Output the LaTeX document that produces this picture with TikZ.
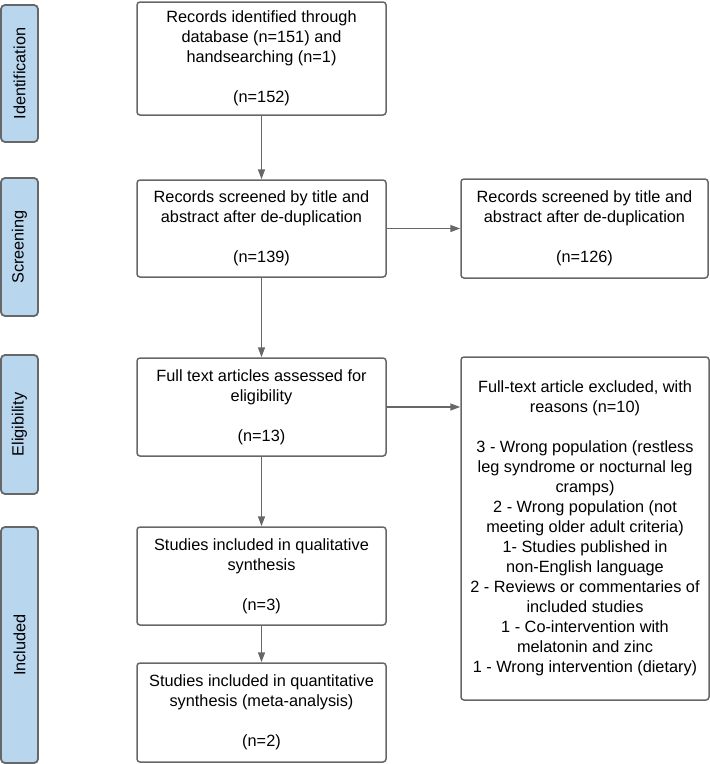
\documentclass[tikz,border=0pt]{standalone}
\usepackage{fontspec}
\setmainfont{Liberation Sans}
\usetikzlibrary{arrows.meta}
\definecolor{phaseblue}{HTML}{B9D6EF}
\definecolor{linegrey}{HTML}{676767}

\begin{document}
\begin{tikzpicture}[x=1pt,y=-1pt,font=\fontsize{16.3}{20}\selectfont]
\useasboundingbox (0,0) rectangle (710,764);
% phase labels down the left side
\begin{scope}[every node/.style={draw=linegrey,line width=1.8pt,fill=phaseblue,rounded corners=4pt,rotate=90,inner sep=0pt,minimum height=37pt}]
    \node[minimum width=137pt] (ident) at (19.5,73.5) {Identification};
    \node[minimum width=138pt] (screen) at (19.5,247) {Screening};
    \node[minimum width=139pt] (elig) at (19.5,424.5) {Eligibility};
    \node[minimum width=236pt] (incl) at (19.5,645) {Included};
\end{scope}
% flow boxes
\begin{scope}[every node/.style={draw=linegrey,line width=1.5pt,rounded corners=3pt,align=center,inner sep=0pt}]
    \node[minimum width=249pt,minimum height=113pt] (found) at (261.5,58.5) {Records identified through\\database (n=151) and\\handsearching (n=1)\\[20pt](n=152)};
    \node[minimum width=249pt,minimum height=97pt] (screened) at (261.5,228.5) {Records screened by title and\\abstract after de-duplication\\[20pt](n=139)};
    \node[minimum width=247pt,minimum height=99pt] (dropped) at (584.5,228.5) {Records screened by title and\\abstract after de-duplication\\[20pt](n=126)};
    \node[minimum width=249pt,minimum height=98pt] (fulltext) at (261.5,407) {Full text articles assessed for\\eligibility\\[20pt](n=13)};
    \node[minimum width=248pt,minimum height=343pt] (excluded) at (585,528.5) {Full-text article excluded, with\\reasons (n=10)\\[20pt]3 - Wrong population (restless\\leg syndrome or nocturnal leg\\cramps)\\2 - Wrong population (not\\meeting older adult criteria)\\1- Studies published in\\non-English language\\2 - Reviews or commentaries of\\included studies\\1 - Co-intervention with\\melatonin and zinc\\1 - Wrong intervention (dietary)};
    \node[minimum width=249pt,minimum height=98pt] (qual) at (261.5,576) {Studies included in qualitative\\synthesis\\[20pt](n=3)};
    \node[minimum width=249pt,minimum height=99pt] (quant) at (261.5,712.5) {Studies included in quantitative\\synthesis (meta-analysis)\\[20pt](n=2)};
\end{scope}
% connectors
\begin{scope}[draw=linegrey,line width=1.5pt,-{Triangle[length=10pt,width=7pt]}]
    \draw (found) -- (screened);
    \draw (screened) -- (fulltext);
    \draw (fulltext) -- (qual);
    \draw (qual) -- (quant);
    \draw (screened) -- (dropped);
    \draw (fulltext.east) -- (fulltext.east -| excluded.west);
\end{scope}
\end{tikzpicture}
\end{document}
